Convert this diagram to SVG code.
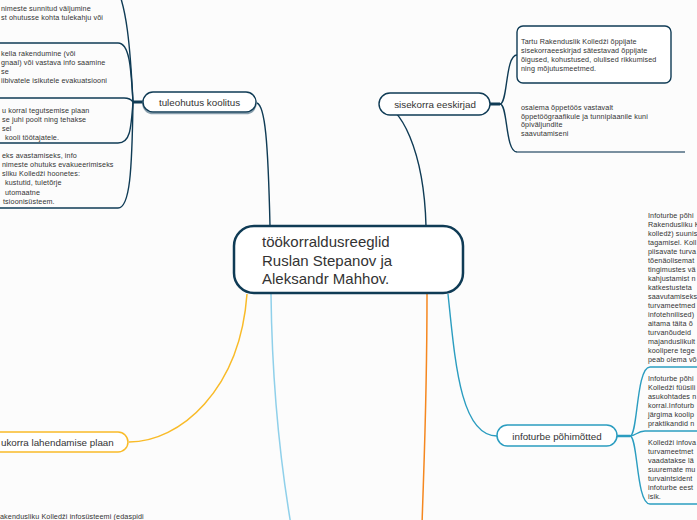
<svg xmlns="http://www.w3.org/2000/svg" width="697" height="520" viewBox="0 0 697 520">
<style>
.t{font-family:"Liberation Sans",Arial,sans-serif;font-size:7.2px;letter-spacing:0.12px;fill:#333}
.n{font-family:"Liberation Sans",Arial,sans-serif;font-size:9.8px;fill:#333}
.c{font-family:"Liberation Sans",Arial,sans-serif;font-size:15px;fill:#333}
.nv{fill:none;stroke:#0f3b55;stroke-width:1.4}
.tl{fill:none;stroke:#2b9dc0;stroke-width:1.4}
</style>
<rect width="697" height="520" fill="#fcfcfc"/>
<g id="connectors">
<path class="nv" d="M257,103 C265,106 268,140 270,226"/>
<path class="nv" d="M380,104 C400,104 424,150 426,226"/>
<path fill="none" stroke="#f9bb28" stroke-width="1.5" d="M247,294 C240,390 180,442 129,442"/>
<path fill="none" stroke="#8fd0ea" stroke-width="1.5" d="M271,294 C272,380 280,460 291,525"/>
<path fill="none" stroke="#f5871f" stroke-width="1.5" d="M427,294 C427,400 424,460 422,525"/>
<path class="tl" d="M448,294 C455,360 460,436 497,436"/>
<path fill="none" stroke="#0f3b55" stroke-width="3" d="M143,102 L133,102"/>
<path class="nv" d="M133,102 C130,40 126,10 118,-10"/>
<path class="nv" d="M133,102 C131,70 130,43 118,43 L-10,43"/>
<path class="nv" d="M133,102 C131,99 128,98 124,98 L-10,98"/>
<path class="nv" d="M133,102 C131,130 130,143 118,143 L-10,143"/>
<path class="nv" d="M133,102 C132,170 130,208 118,208 L-10,208"/>
<path fill="none" stroke="#0f3b55" stroke-width="3" d="M490,104 L500,104"/>
<path class="nv" d="M500,104 C508,104 505,55 517,55"/>
<path class="nv" d="M500,104 C508,104 505,152 517,152"/>
<path fill="none" stroke="#7a90a0" stroke-width="2" d="M517,152 L685,152"/>
<path fill="none" stroke="#2b9dc0" stroke-width="2.5" d="M617,436 L630,436"/>
<path class="tl" d="M630,436 C638,436 636,367 650,367 L705,367"/>
<path class="tl" d="M630,436 C636,436 637,431 645,431 L705,431"/>
<path class="tl" d="M630,436 C638,436 636,504 650,504 L705,504"/>
</g>
<g id="central">
<rect x="234" y="226" width="229" height="67" rx="20" fill="#fff" stroke="#0f3b55" stroke-width="2.5"/>
<text class="c" x="262" y="247">töökorraldusreeglid</text>
<text class="c" x="262" y="266">Ruslan Stepanov ja</text>
<text class="c" x="262" y="284">Aleksandr Mahhov.</text>
</g>
<g id="tuleohutus">
<rect x="143" y="93.5" width="113" height="20" rx="10" fill="none" stroke="#8aa0ae" stroke-width="1.6"/>
<rect x="143" y="92" width="113" height="20" rx="10" fill="#fff" stroke="#0f3b55" stroke-width="1.4"/>
<text class="n" x="199.5" y="105.5" text-anchor="middle">tuleohutus koolitus</text>
</g>
<g id="tule-c0">
<text class="t" x="1" y="10.5">nimeste sunnitud väljumine</text>
<text class="t" x="1" y="20">st ohutusse kohta tulekahju või</text>
</g>
<g id="tule-c1">
<text class="t" x="1" y="55.5">kella rakendumine (või</text>
<text class="t" x="1" y="64.8">gnaal) või vastava info saamine</text>
<text class="t" x="1" y="74.1">se</text>
<text class="t" x="1" y="83.4">iibivatele isikutele evakuatsiooni</text>
</g>
<g id="tule-c2">
<text class="t" x="2" y="112.5">u korral tegutsemise plaan</text>
<text class="t" x="2" y="121.5">se juhi poolt ning tehakse</text>
<text class="t" x="2" y="130.5">sel</text>
<text class="t" x="5" y="139.5">kooli töötajatele.</text>
</g>
<g id="tule-c3">
<text class="t" x="2" y="157.5">eks avastamiseks, info</text>
<text class="t" x="2" y="166.8">nimeste ohutuks evakueerimiseks</text>
<text class="t" x="2" y="176">sliku Kolledži hoonetes:</text>
<text class="t" x="5" y="185.3">kustutid, tuletõrje</text>
<text class="t" x="5" y="194.6">utomaatne</text>
<text class="t" x="3" y="204">tsioonisüsteem.</text>
</g>
<g id="sisekorra">
<rect x="379" y="93" width="111" height="22" rx="11" fill="#fff" stroke="#0f3b55" stroke-width="1.4"/>
<text class="n" x="435" y="107.5" text-anchor="middle">sisekorra eeskirjad</text>
</g>
<g id="sise-c1">
<rect x="517" y="26" width="154" height="57" rx="6" fill="#fff" stroke="#0f3b55" stroke-width="1.4"/>
<text class="t" x="521" y="44.2">Tartu Rakenduslik Kolledži õppijate</text>
<text class="t" x="521" y="53">sisekorraeeskirjad sätestavad õppijate</text>
<text class="t" x="521" y="61.9">õigused, kohustused, olulised rikkumised</text>
<text class="t" x="521" y="70.8">ning mõjutusmeetmed.</text>
</g>
<g id="sise-c2">
<text class="t" x="521" y="110">osalema õppetöös vastavalt</text>
<text class="t" x="521" y="118.5">õppetöögraafikule ja tunniplaanile kuni</text>
<text class="t" x="521" y="127">õpiväljundite</text>
<text class="t" x="521" y="136">saavutamiseni</text>
</g>
<g id="yellow-node">
<rect x="-20" y="432" width="148" height="20" rx="10" fill="#fff" stroke="#f9bb28" stroke-width="1.5"/>
<text class="n" x="1" y="445.5">ukorra lahendamise plaan</text>
</g>
<g id="lightblue-child">
<text class="t" x="0" y="519">akendusliku Kolledži infosüsteemi (edaspidi</text>
</g>
<g id="infoturbe">
<rect x="497" y="425" width="120" height="21" rx="10.5" fill="#fff" stroke="#2b9dc0" stroke-width="1.5"/>
<text class="n" x="557" y="439.5" text-anchor="middle">infoturbe põhimõtted</text>
</g>
<g id="info-a">
<text class="t" x="648" y="217.5">Infoturbe põhi</text>
<text class="t" x="648" y="226.5">Rakendusliku K</text>
<text class="t" x="648" y="235.5">kolledž) suunis</text>
<text class="t" x="648" y="244.5">tagamisel. Koll</text>
<text class="t" x="648" y="253.5">piisavate turva</text>
<text class="t" x="648" y="262.5">tõenäolisemat</text>
<text class="t" x="648" y="271.5">tingimustes vä</text>
<text class="t" x="648" y="280.5">kahjustamist n</text>
<text class="t" x="648" y="289.5">katkestusteta</text>
<text class="t" x="648" y="298.5">saavutamiseks</text>
<text class="t" x="648" y="307.5">turvameetmed</text>
<text class="t" x="648" y="316.5">infotehnilised)</text>
<text class="t" x="648" y="325.5">aitama täita õ</text>
<text class="t" x="648" y="334.5">turvanõudeid</text>
<text class="t" x="648" y="343.5">majanduslikult</text>
<text class="t" x="648" y="352.5">koolipere tege</text>
<text class="t" x="648" y="361.5">peab olema võ</text>
</g>
<g id="info-b">
<text class="t" x="648" y="380.5">Infoturbe põhi</text>
<text class="t" x="648" y="389.5">Kolledži füüsili</text>
<text class="t" x="648" y="398.5">asukohtades n</text>
<text class="t" x="648" y="407.5">korral.Infoturb</text>
<text class="t" x="648" y="416.5">järgima koolip</text>
<text class="t" x="648" y="425.5">praktikandid n</text>
</g>
<g id="info-c">
<text class="t" x="648" y="444.5">Kolledži infova</text>
<text class="t" x="648" y="453.5">turvameetmet</text>
<text class="t" x="648" y="462.5">vaadatakse lä</text>
<text class="t" x="648" y="471.5">suuremate mu</text>
<text class="t" x="648" y="480.5">turvaintsident</text>
<text class="t" x="648" y="489.5">infoturbe eest</text>
<text class="t" x="648" y="498.5">isik.</text>
</g>
</svg>
